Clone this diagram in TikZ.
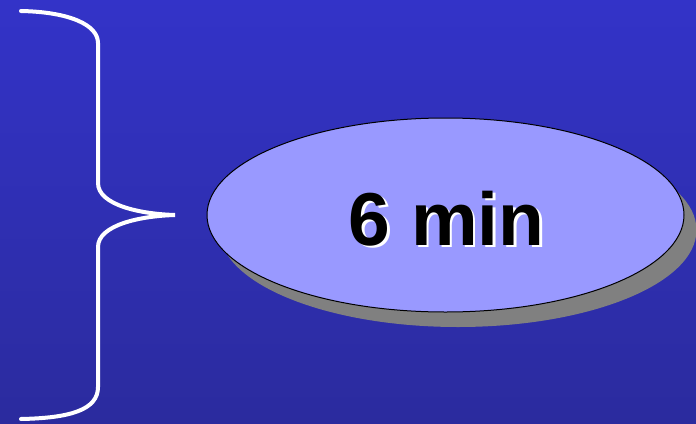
\documentclass[tikz,border=0pt]{standalone}
\usepackage{fontspec}
\setmainfont{Liberation Sans}
\definecolor{bgtop}{RGB}{51,51,200}
\definecolor{bgbot}{RGB}{43,43,158}
\definecolor{ellfill}{RGB}{153,153,255}
\definecolor{shadowgray}{RGB}{128,128,128}
\tikzset{
  bracestyle/.style={draw=white, line width=4pt, line cap=round},
  ellstyle/.style={ellipse, draw=black, line width=1pt, fill=ellfill, minimum width=477pt, minimum height=194pt, inner sep=0pt},
  shadowstyle/.style={ellipse, fill=shadowgray, minimum width=477pt, minimum height=194pt, inner sep=0pt},
  labelstyle/.style={font=\fontsize{75}{75}\selectfont\bfseries, inner sep=0pt}
}
\usetikzlibrary{shapes.geometric}
\begin{document}
\begin{tikzpicture}[x=1pt,y=-1pt]
\useasboundingbox (0,0) rectangle (696,423);
\shade[top color=bgtop, bottom color=bgbot] (0,0) rectangle (696,423);
\node[shadowstyle] (sh) at (458,230) {};
\node[ellstyle] (ell) at (445.5,215) {};
\node[labelstyle, text=white] (lblsh) at (449,221) {6 min};
\node[labelstyle, text=black] (lbl) at (446.5,218.5) {6 min};
\coordinate (btop) at (21,11);
\coordinate (btip) at (175,215);
\coordinate (bbot) at (21,419);
\draw[bracestyle] (btop) .. controls (70,12) and (98,25) .. (98,43)
  -- (98,183) .. controls (98,205) and (140,214) .. (btip)
  .. controls (140,216) and (98,225) .. (98,247)
  -- (98,387) .. controls (98,410) and (70,418) .. (bbot);
\end{tikzpicture}
\end{document}
